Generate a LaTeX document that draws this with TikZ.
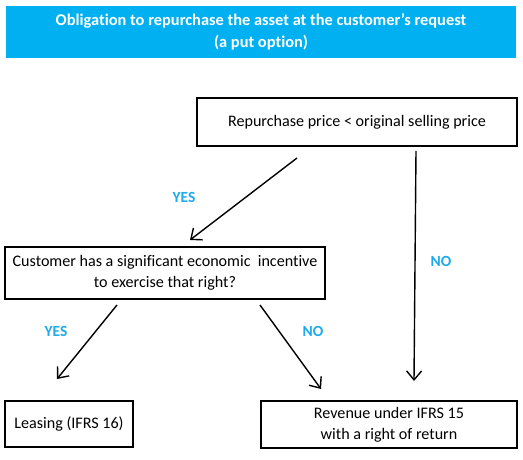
\documentclass[tikz,border=0pt]{standalone}
\usepackage{fontspec}
\setmainfont{Carlito}[Ligatures=NoCommon]
\usetikzlibrary{arrows.meta}
\definecolor{cyanhead}{RGB}{0, 176, 240}
\definecolor{cyanlabel}{RGB}{30, 170, 235}

\begin{document}
\begin{tikzpicture}[x=1pt, y=-1pt,
    box/.style={draw=black, line width=1.8pt, align=center, inner sep=0pt,
                font=\fontsize{16.1}{21}\selectfont},
    flow/.style={-{Straight Barb[length=9pt, width=15pt, line width=1.4pt]}, line width=1.4pt},
    answer/.style={text=cyanlabel, font=\fontsize{15.5}{17}\selectfont\bfseries}]
            \useasboundingbox                                          (0, 0) rectangle (523, 460);
            \fill[white]                                               (0, 0) rectangle (523, 460);
            \node[fill=cyanhead, text=white, align=center, minimum width=510pt, minimum height=52pt,
                  font=\fontsize{16.4}{22}\selectfont\bfseries] (head) at (261, 32)
                 {Obligation to repurchase the asset at the customer’s request\\(a put option)};
            \node[box, minimum width=320pt, minimum height=48pt] (price)    at (357, 122.0) {Repurchase price < original selling price};
            \node[box, minimum width=320pt, minimum height=52pt] (incent)   at (165, 273.0) {Customer has a significant economic\ \ incentive\\to exercise that right?};
            \node[box, minimum width=128pt, minimum height=46pt] (leasing)  at ( 69, 424.0) {Leasing (IFRS 16)};
            \node[box, minimum width=256pt, minimum height=47pt] (revenue)  at (389, 424.5) {Revenue under IFRS 15\\with a right of return};
            % free arrow ends
            \coordinate (priceyes) at (297, 158);  \coordinate (incenttop)  at (190, 240);
            \coordinate (priceno)  at (416, 151);  \coordinate (revenuetop) at (414, 381);
            \coordinate (incyes)   at (117, 305);  \coordinate (leasingtop) at ( 57, 379);
            \coordinate (incno)    at (260, 305);  \coordinate (revenueleft) at (321, 389);
            \draw[flow] (priceyes) -- (incenttop);
            \draw[flow] (priceno)  -- (revenuetop);
            \draw[flow] (incyes)   -- (leasingtop);
            \draw[flow] (incno)    -- (revenueleft);
            \node[answer] (yesone) at (184, 197) {YES};
            \node[answer] (noone)  at (441, 261) {NO};
            \node[answer] (yestwo) at ( 56, 331) {YES};
            \node[answer] (notwo)  at (313, 331) {NO};
        \end{tikzpicture}
\end{document}
